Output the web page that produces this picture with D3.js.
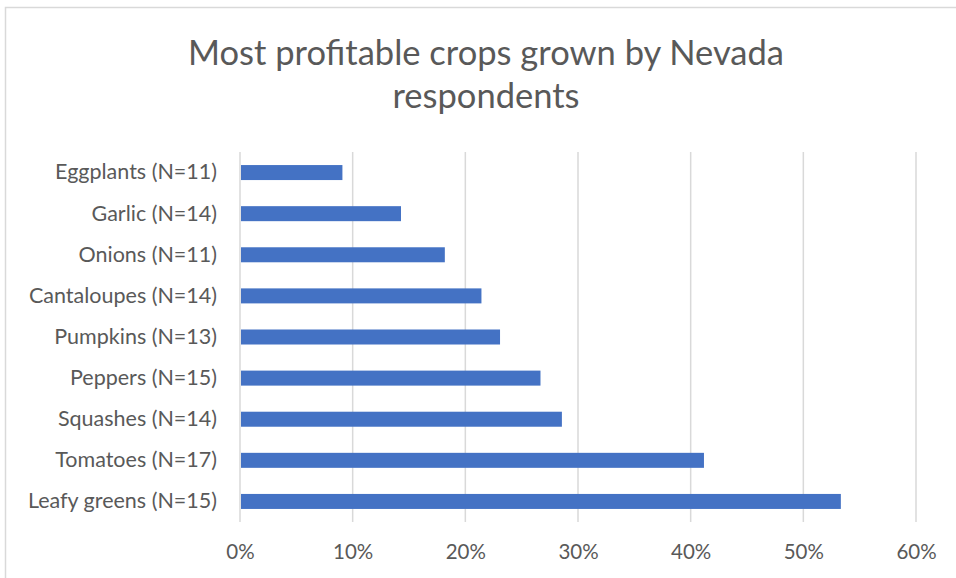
<!DOCTYPE html>
<html>
<head>
<meta charset="utf-8">
<script src="https://cdn.jsdelivr.net/npm/d3@7"></script>
<style>
  html, body { margin: 0; padding: 0; background: #fff; }
  svg { display: block; }
</style>
</head>
<body>
<div id="chart"></div>
<script>
// Horizontal bar chart: most profitable crops (D3 v7)

const width = 956;
const height = 578;

const crops = [
  'Eggplants (N=11)',
  'Garlic (N=14)',
  'Onions (N=11)',
  'Cantaloupes (N=14)',
  'Pumpkins (N=13)',
  'Peppers (N=15)',
  'Squashes (N=14)',
  'Tomatoes (N=17)',
  'Leafy greens (N=15)'
];
const shares = [9.09, 14.29, 18.18, 21.43, 23.08, 26.67, 28.57, 41.18, 53.33]; // percent
const tickValues = [0, 10, 20, 30, 40, 50, 60];
const titleLines = ['Most profitable crops grown by Nevada', 'respondents'];

const data = crops.map((c, i) => ({ crop: c, value: shares[i] }));

const plot = { left: 240, right: 916, top: 152, bottom: 522 };
const fontFamily = 'Lato, "Open Sans", sans-serif';
const textColor = '#595959';
const gridColor = '#d9d9d9';

const svg = d3.select('#chart')
  .append('svg')
  .attr('width', width)
  .attr('height', height);

// chart border
svg.append('rect')
  .attr('x', 5.5)
  .attr('y', 7.5)
  .attr('width', width + 10)
  .attr('height', height + 10)
  .attr('fill', '#fff')
  .attr('stroke', gridColor)
  .attr('stroke-width', 1.5);

const x = d3.scaleLinear()
  .domain([0, 60])
  .range([plot.left, plot.right]);

const y = d3.scaleBand()
  .domain(crops)
  .range([plot.top, plot.bottom])
  .paddingInner(0.635)
  .paddingOuter(0.3175);

// title
svg.append('text')
  .attr('x', 486)
  .attr('y', 65)
  .attr('text-anchor', 'middle')
  .style('font-family', fontFamily)
  .style('font-size', '34.5px')
  .attr('fill', textColor)
  .selectAll('tspan')
  .data(titleLines)
  .enter()
  .append('tspan')
  .attr('x', 486)
  .attr('dy', (d, i) => i === 0 ? 0 : 43)
  .text(d => d);

// gridlines
svg.append('g')
  .attr('class', 'grid')
  .selectAll('line')
  .data(tickValues)
  .enter()
  .append('line')
  .attr('x1', d => x(d))
  .attr('x2', d => x(d))
  .attr('y1', plot.top)
  .attr('y2', plot.bottom)
  .attr('stroke', gridColor)
  .attr('stroke-width', 1.5);

// bars
svg.append('g')
  .selectAll('rect')
  .data(data)
  .enter()
  .append('rect')
  .attr('x', x(0) + 1)
  .attr('y', d => y(d.crop))
  .attr('width', d => x(d.value) - x(0) - 1)
  .attr('height', y.bandwidth())
  .attr('fill', '#4472c4');

// x axis labels
const xAxis = d3.axisBottom(x)
  .tickValues(tickValues)
  .tickSize(0)
  .tickPadding(0)
  .tickFormat(d => d + '%');

svg.append('g')
  .attr('transform', `translate(0, ${plot.bottom + 22})`)
  .call(xAxis)
  .call(g => g.select('.domain').remove())
  .selectAll('text')
  .style('font-family', fontFamily)
  .style('font-size', '20.5px')
  .attr('fill', textColor);

// y axis labels
const yAxis = d3.axisLeft(y)
  .tickSize(0)
  .tickPadding(0);

svg.append('g')
  .attr('transform', `translate(${plot.left - 23}, 0)`)
  .call(yAxis)
  .call(g => g.select('.domain').remove())
  .selectAll('text')
  .style('font-family', fontFamily)
  .style('font-size', '21.5px')
  .attr('fill', textColor);
</script>
</body>
</html>
